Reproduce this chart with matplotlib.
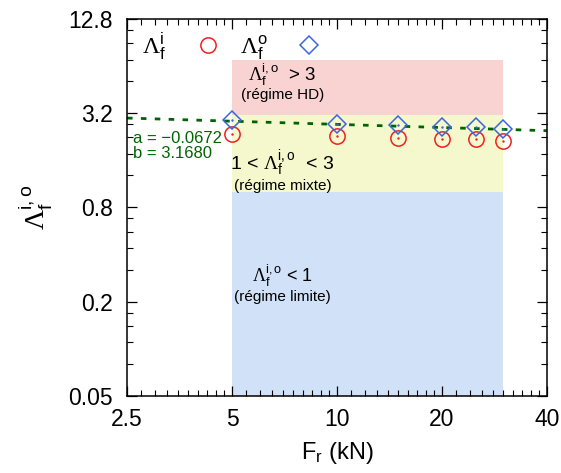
import numpy as np
import matplotlib
matplotlib.use("Agg")
import matplotlib.pyplot as plt
from matplotlib.ticker import FixedLocator, NullFormatter, FixedFormatter
from matplotlib.lines import Line2D

plt.rcParams['font.family'] = ['Liberation Sans', 'DejaVu Sans']
plt.rcParams['mathtext.fontset'] = 'custom'
plt.rcParams['mathtext.rm'] = 'Liberation Serif'
plt.rcParams['mathtext.sf'] = 'Liberation Sans'
plt.rcParams['mathtext.it'] = 'Liberation Sans:italic'

# ----------------------------------------------------------------------
# data
# ----------------------------------------------------------------------
force = [5, 10, 15, 20, 25, 30]                       # F_r (kN)
lam_i = [2.37, 2.29, 2.23, 2.18, 2.18, 2.13]          # circles
lam_o = [2.89, 2.73, 2.69, 2.62, 2.60, 2.54]          # diamonds

fit_a = -0.0672
fit_b = 3.1680

xticks = [2.5, 5, 10, 20, 40]
yticks = [0.05, 0.2, 0.8, 3.2, 12.8]
ytick_labels = ['0.05', '0.2', '0.8', '3.2', '12.8']

# regime bands: (x0, x1, y0, y1, colour)
bands = [(5, 30, 3.1, 7.0, '#f9d2d2'),
         (5, 30, 1.0, 3.1, '#f5f8cd'),
         (5, 30, 0.05, 1.0, '#d0e1f8')]

red = '#ee2020'
blue = '#3a66e0'
green = '#006400'
lam = r'$\Lambda_{\mathsf{f}}^{\mathsf{i,o}}$'

# ----------------------------------------------------------------------
fig = plt.figure(figsize=(5.61, 4.73), dpi=100)
ax = fig.add_axes([0.2264, 0.163, 0.7486, 0.797])

ax.set_xscale('log')
ax.set_yscale('log')
ax.set_xlim(2.5, 40)
ax.set_ylim(0.05, 12.8)

for x0, x1, y0, y1, col in bands:
    ax.fill_between([x0, x1], y0, y1, color=col, lw=0, zorder=0)

# power-law fit over the whole axis
xf = np.geomspace(2.5, 40, 50)
ax.plot(xf, fit_b * xf ** fit_a, color=green, ls=(0, (2, 3)), lw=2, zorder=2)

ax.plot(force, lam_i, ls='none', marker='o', ms=11, mfc='none', mec=red,
        mew=1.1, zorder=3)
ax.plot(force, lam_o, ls='none', marker='D', ms=9, mfc='none', mec=blue,
        mew=1.1, zorder=3)
ax.plot(force, lam_i, ls='none', marker='.', ms=1.5, color=red, zorder=4)
ax.plot(force, lam_o, ls='none', marker='.', ms=1.5, color=blue, zorder=4)

# ticks
ax.xaxis.set_major_locator(FixedLocator(xticks))
ax.xaxis.set_major_formatter(FixedFormatter([str(t) for t in xticks]))
xminor = []
for lo, hi in zip(xticks[:-1], xticks[1:]):
    xminor += list(np.linspace(lo, hi, 11)[1:-1])
ax.xaxis.set_minor_locator(FixedLocator(xminor))
ax.xaxis.set_minor_formatter(NullFormatter())

ax.yaxis.set_major_locator(FixedLocator(yticks))
ax.yaxis.set_major_formatter(FixedFormatter(ytick_labels))
yminor = []
for lo, hi in zip(yticks[:-1], yticks[1:]):
    yminor += list(np.linspace(lo, hi, 6)[1:-1])
ax.yaxis.set_minor_locator(FixedLocator(yminor))
ax.yaxis.set_minor_formatter(NullFormatter())

ax.tick_params(which='both', direction='in', top=True, right=True,
               labelsize=16.5, colors='black')
ax.tick_params(which='major', length=7, width=0.9)
ax.tick_params(which='minor', length=4, width=0.8)
ax.tick_params(axis='x', which='major', pad=9)
ax.tick_params(axis='y', which='major', pad=10)
for s in ax.spines.values():
    s.set_linewidth(1.1)

ax.set_xlabel(r'F$_{\mathsf{r}}$ (kN)', fontsize=17, labelpad=6)
ax.set_ylabel(lam, fontsize=20, labelpad=10)

# annotations
ax.text(0.37, 0.852, lam + '  > 3', transform=ax.transAxes, fontsize=13.5,
        ha='center', va='center')
ax.text(0.37, 0.797, '(régime HD)', transform=ax.transAxes, fontsize=11,
        ha='center', va='center')
ax.text(0.37, 0.615, '1 < ' + lam + '  < 3', transform=ax.transAxes, fontsize=14,
        ha='center', va='center')
ax.text(0.37, 0.558, '(régime mixte)', transform=ax.transAxes, fontsize=11,
        ha='center', va='center')
ax.text(0.37, 0.32, lam + ' < 1', transform=ax.transAxes, fontsize=13,
        ha='center', va='center')
ax.text(0.37, 0.263, '(régime limite)', transform=ax.transAxes, fontsize=11,
        ha='center', va='center')
ax.text(0.014, 0.684, 'a = \u22120.0672', transform=ax.transAxes, fontsize=12,
        color=green, ha='left', va='center')
ax.text(0.014, 0.642, 'b = 3.1680', transform=ax.transAxes, fontsize=12,
        color=green, ha='left', va='center')

handles = [Line2D([], [], ls='none', marker='o', ms=11, mfc='none', mec=red, mew=1.1),
           Line2D([], [], ls='none', marker='D', ms=9, mfc='none', mec=blue, mew=1.1)]
labels = [r'$\Lambda_{\mathsf{f}}^{\mathsf{i}}$', r'$\Lambda_{\mathsf{f}}^{\mathsf{o}}$']
ax.legend(handles, labels, loc='upper left', bbox_to_anchor=(0.014, 0.995), ncol=2,
          frameon=False, markerfirst=False, fontsize=17, handlelength=1.5,
          handletextpad=1.0, columnspacing=0.6, borderaxespad=0.0)

fig.savefig('out.png', dpi=100)
plt.close()
